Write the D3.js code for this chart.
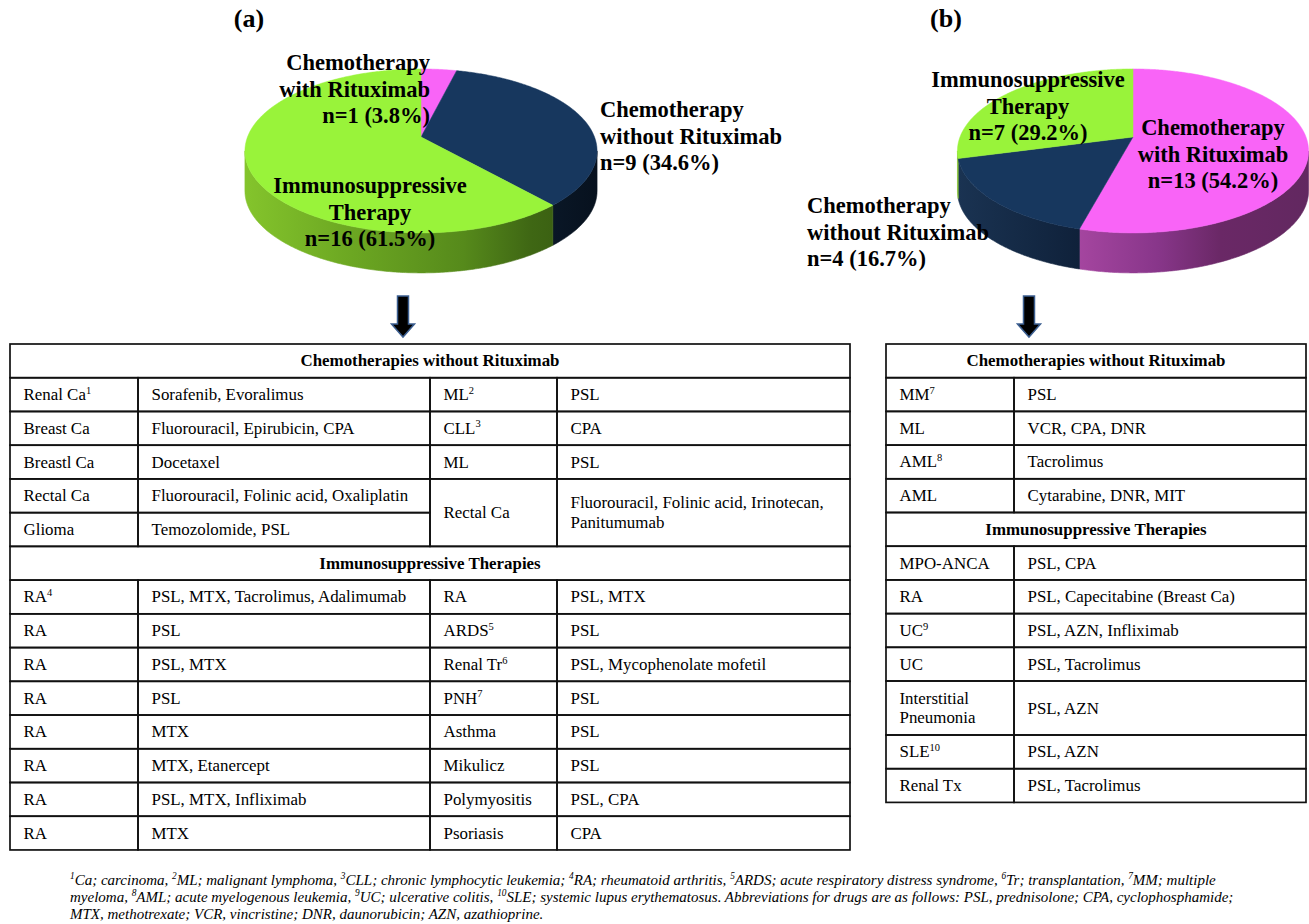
<!DOCTYPE html>
<html><head><meta charset="utf-8">
<script src="https://cdn.jsdelivr.net/npm/d3@7"></script>
<style>body{margin:0;background:#fff}svg{display:block;font-family:"Liberation Serif","Times New Roman",serif}</style>
</head><body>
<svg id="c" width="1309" height="924"></svg>
<script>
// ---------------- DATA ----------------
const pieCategories = ["Chemotherapy with Rituximab", "Chemotherapy without Rituximab", "Immunosuppressive Therapy"];
const pieLabelLines = [["Chemotherapy", "with Rituximab"], ["Chemotherapy", "without Rituximab"], ["Immunosuppressive", "Therapy"]];
const pieCountsA = [1, 9, 16];
const piePercentA = ["3.8%", "34.6%", "61.5%"];
const pieCountsB = [13, 4, 7];
const piePercentB = ["54.2%", "16.7%", "29.2%"];
const panelTitles = ["(a)", "(b)"];

const sectionHeaders = ["Chemotherapies without Rituximab", "Immunosuppressive Therapies"];
// table (a): [disease, drugs, disease, drugs]; {n} = superscript, | = line break, *2 = spans 2 rows, null = merged cell
const tableAChemo = [
  ["Renal Ca{1}", "Sorafenib, Evoralimus", "ML{2}", "PSL"],
  ["Breast Ca", "Fluorouracil, Epirubicin, CPA", "CLL{3}", "CPA"],
  ["Breastl Ca", "Docetaxel", "ML", "PSL"],
  ["Rectal Ca", "Fluorouracil, Folinic acid, Oxaliplatin", "Rectal Ca*2", "Fluorouracil, Folinic acid, Irinotecan,|Panitumumab*2"],
  ["Glioma", "Temozolomide, PSL", null, null]
];
const tableAImmuno = [
  ["RA{4}", "PSL, MTX, Tacrolimus, Adalimumab", "RA", "PSL, MTX"],
  ["RA", "PSL", "ARDS{5}", "PSL"],
  ["RA", "PSL, MTX", "Renal Tr{6}", "PSL, Mycophenolate mofetil"],
  ["RA", "PSL", "PNH{7}", "PSL"],
  ["RA", "MTX", "Asthma", "PSL"],
  ["RA", "MTX, Etanercept", "Mikulicz", "PSL"],
  ["RA", "PSL, MTX, Infliximab", "Polymyositis", "PSL, CPA"],
  ["RA", "MTX", "Psoriasis", "CPA"]
];
const tableBChemo = [
  ["MM{7}", "PSL"],
  ["ML", "VCR, CPA, DNR"],
  ["AML{8}", "Tacrolimus"],
  ["AML", "Cytarabine, DNR, MIT"]
];
const tableBImmuno = [
  ["MPO-ANCA", "PSL, CPA"],
  ["RA", "PSL, Capecitabine (Breast Ca)"],
  ["UC{9}", "PSL, AZN, Infliximab"],
  ["UC", "PSL, Tacrolimus"],
  ["Interstitial|Pneumonia", "PSL, AZN"],
  ["SLE{10}", "PSL, AZN"],
  ["Renal Tx", "PSL, Tacrolimus"]
];
const footnoteLines = [
  "{1}Ca; carcinoma, {2}ML; malignant lymphoma, {3}CLL; chronic lymphocytic leukemia; {4}RA; rheumatoid arthritis, {5}ARDS; acute respiratory distress syndrome, {6}Tr; transplantation, {7}MM; multiple",
  "myeloma, {8}AML; acute myelogenous leukemia, {9}UC; ulcerative colitis, {10}SLE; systemic lupus erythematosus. Abbreviations for drugs are as follows: PSL, prednisolone; CPA, cyclophosphamide;",
  "MTX, methotrexate; VCR, vincristine; DNR, daunorubicin; AZN, azathioprine."
];

// ---------------- STYLE ----------------
const topColors = ["#f964f7", "#17375e", "#99f33a"];
const sideStops = [
  [[0, "#d262cf"], [0.35, "#a4459f"], [0.57, "#88368a"], [0.75, "#6a2866"], [1, "#622860"]],
  [[0, "#1a3352"], [0.35, "#0f213a"], [0.85, "#0a1828"], [1, "#07111e"]],
  [[0, "#84c42c"], [0.3, "#6ca722"], [0.62, "#568a1b"], [0.81, "#3f6714"], [1, "#35570f"]]
];

const svg = d3.select("#c");
const defs = svg.append("defs");

function rich(textSel, str, fs) {
  const parts = str.split(/(\{[^}]*\})/).filter(s => s.length);
  let raised = false;
  parts.forEach(p => {
    if (p[0] === "{") {
      textSel.append("tspan").attr("font-size", fs * 0.62).attr("dy", -fs * 0.38).text(p.slice(1, -1));
      raised = true;
    } else {
      const t = textSel.append("tspan").text(p);
      if (raised) { t.attr("dy", fs * 0.38); raised = false; }
    }
  });
}

// 3D pie with perspective: circle point at angle t projects to
// (cx + R sin t / (1 + k cos t), cy - Ry cos t / (1 + k cos t))
function drawPie(id, cx, cy, R, Ry, k, depth, counts) {
  const g = svg.append("g");
  const arcs = d3.pie().sort(null).startAngle(0).endAngle(2 * Math.PI)(counts);
  const P = (t, dy = 0) => {
    const s = 1 / (1 + k * Math.cos(t));
    return [cx + R * Math.sin(t) * s, cy - Ry * Math.cos(t) * s + dy];
  };
  const samples = (a0, a1) => {
    const n = Math.max(2, Math.ceil((a1 - a0) / 0.01));
    return d3.range(n + 1).map(i => a0 + (a1 - a0) * i / n);
  };
  const tL = Math.PI - Math.acos(-k) + Math.PI, tR = Math.acos(-k); // silhouette angles
  const visLo = tR, visHi = 2 * Math.PI - tR;
  const xmin = P(visHi)[0], xmax = P(visLo)[0];
  sideStops.forEach((stops, i) => {
    const gr = defs.append("linearGradient").attr("id", id + "s" + i)
      .attr("gradientUnits", "userSpaceOnUse").attr("x1", xmin).attr("x2", xmax).attr("y1", 0).attr("y2", 0);
    stops.forEach(s => gr.append("stop").attr("offset", s[0]).attr("stop-color", s[1]));
  });
  const line = d3.line();
  arcs.forEach((a, i) => {
    const s = Math.max(a.startAngle, visLo), e = Math.min(a.endAngle, visHi);
    if (e <= s) return;
    const ts = samples(s, e);
    const pts = ts.map(t => P(t)).concat(ts.slice().reverse().map(t => P(t, depth)));
    g.append("path").attr("d", line(pts) + "Z").attr("fill", `url(#${id}s${i})`)
      .attr("stroke", `url(#${id}s${i})`).attr("stroke-width", 0.6);
  });
  arcs.forEach((a, i) => {
    const pts = [[cx, cy]].concat(samples(a.startAngle, a.endAngle).map(t => P(t)));
    g.append("path").attr("d", line(pts) + "Z").attr("fill", topColors[i])
      .attr("stroke", topColors[i]).attr("stroke-width", 0.5);
  });
}

function pieLabel(i, counts, pcts, x, y0, anchor) {
  const lines = pieLabelLines[i].concat([`n=${counts[i]} (${pcts[i]})`]);
  const t = svg.append("text").attr("font-size", 22.5).attr("font-weight", "bold").attr("text-anchor", anchor).attr("fill", "#000");
  lines.forEach((l, k) => t.append("tspan").attr("x", x).attr("y", y0 + k * 26.7).text(l));
}

function arrow(cx) {
  const p = [[cx - 5.5, 296], [cx + 5.5, 296], [cx + 5.5, 324], [cx + 11.5, 324], [cx, 337], [cx - 11.5, 324], [cx - 5.5, 324]];
  svg.append("path").attr("d", d3.line()(p) + "Z").attr("fill", "#000").attr("stroke", "#3c5f91").attr("stroke-width", 1.5);
}

// ---------------- PIES ----------------
drawPie("pa", 421, 137, 173.5, 79.6, 0.17, 40, pieCountsA);
drawPie("pb", 1133, 137, 173, 79.6, 0.17, 40, pieCountsB);

svg.append("text").attr("x", 249).attr("y", 27).attr("text-anchor", "middle").attr("font-size", 26).attr("font-weight", "bold").text(panelTitles[0]);
svg.append("text").attr("x", 946).attr("y", 27).attr("text-anchor", "middle").attr("font-size", 26).attr("font-weight", "bold").text(panelTitles[1]);

pieLabel(0, pieCountsA, piePercentA, 430, 70, "end");
pieLabel(1, pieCountsA, piePercentA, 600, 117, "start");
pieLabel(2, pieCountsA, piePercentA, 370, 193, "middle");

pieLabel(2, pieCountsB, piePercentB, 1028, 87, "middle");
pieLabel(0, pieCountsB, piePercentB, 1213, 135, "middle");
pieLabel(1, pieCountsB, piePercentB, 807, 213, "start");

arrow(403);
arrow(1029);

// ---------------- TABLES ----------------
const FS = 16.9;
function drawTable(colX, y0, sections, rowHeightFn) {
  const g = svg.append("g");
  const rows = [];
  sections.forEach(sec => {
    rows.push({ header: sec.title });
    sec.rows.forEach(r => rows.push({ cells: r }));
  });
  const heights = rows.map(rowHeightFn);
  const yEdges = [y0].concat(Array.from(d3.cumsum(heights), v => y0 + v));
  const x = d3.scaleOrdinal().domain(d3.range(colX.length)).range(colX);
  rows.forEach((r, ri) => {
    if (r.header) {
      g.append("rect").attr("x", x(0)).attr("y", yEdges[ri]).attr("width", x(colX.length - 1) - x(0)).attr("height", heights[ri])
        .attr("fill", "none").attr("stroke", "#111").attr("stroke-width", 1.7);
      g.append("text").attr("x", (x(0) + x(colX.length - 1)) / 2).attr("y", (yEdges[ri] + yEdges[ri + 1]) / 2 + 5.5)
        .attr("text-anchor", "middle").attr("font-size", FS).attr("font-weight", "bold").text(r.header);
      return;
    }
    r.cells.forEach((c, k) => {
      if (c === null) return;
      let rs = 1, txt = c;
      const m = c.match(/\*(\d+)$/);
      if (m) { rs = +m[1]; txt = c.replace(/\*\d+$/, ""); }
      const ya = yEdges[ri], yb = yEdges[ri + rs];
      g.append("rect").attr("x", x(k)).attr("y", ya).attr("width", x(k + 1) - x(k)).attr("height", yb - ya)
        .attr("fill", "none").attr("stroke", "#111").attr("stroke-width", 1.7);
      const lines = txt.split("|");
      const mid = (ya + yb) / 2;
      lines.forEach((l, li) => {
        const t = g.append("text").attr("x", x(k) + 13.5)
          .attr("y", mid + 5.5 + (li - (lines.length - 1) / 2) * 19.5).attr("font-size", FS);
        rich(t, l, FS);
      });
    });
  });
}

const rowH = 33.73;
drawTable([10, 138, 430, 557, 850], 344,
  [{ title: sectionHeaders[0], rows: tableAChemo }, { title: sectionHeaders[1], rows: tableAImmuno }],
  () => rowH);
drawTable([886, 1014, 1306], 344,
  [{ title: sectionHeaders[0], rows: tableBChemo }, { title: sectionHeaders[1], rows: tableBImmuno }],
  r => (r.cells && r.cells[0].indexOf("|") >= 0) ? 54 : 33.7);

// ---------------- FOOTNOTE ----------------
footnoteLines.forEach((l, i) => {
  const t = svg.append("text").attr("x", 70).attr("y", 885 + i * 17).attr("font-size", 15).attr("font-style", "italic");
  rich(t, l, 15);
});
</script>
</body></html>
